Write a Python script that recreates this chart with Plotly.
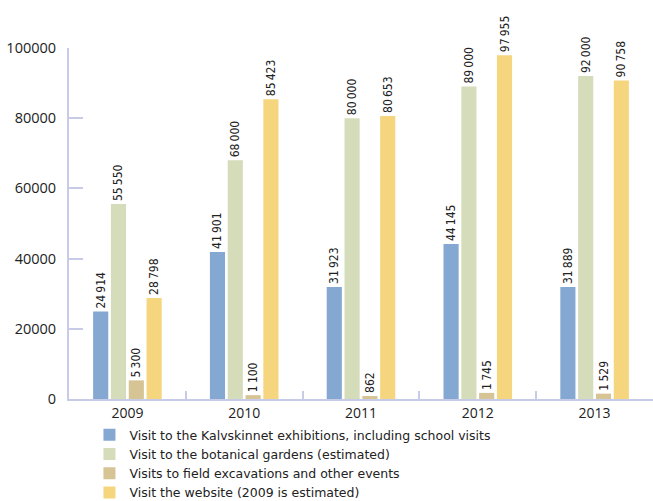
import plotly.graph_objects as go

years = ["2009", "2010", "2011", "2012", "2013"]
series_names = [
    "Visit to the Kalvskinnet exhibitions, including school visits",
    "Visit to the botanical gardens (estimated)",
    "Visits to field excavations and other events",
    "Visit the website (2009 is estimated)",
]
exhibitions = [24914, 41901, 31923, 44145, 31889]
botanical = [55550, 68000, 80000, 89000, 92000]
excavations = [5300, 1100, 862, 1745, 1529]
website = [28798, 85423, 80653, 97955, 90758]
colors = ["#85a8d3", "#d5dcb9", "#d6c494", "#f5d67f"]

tick_vals = [0, 20000, 40000, 60000, 80000, 100000]
tick_text = ["0", "20000", "40000", "60000", "80000", "100000"]


def fmt(v):
    return f"{v:,}".replace(",", "\u2009")


fig = go.Figure()
for name, vals, col in zip(series_names, [exhibitions, botanical, excavations, website], colors):
    fig.add_trace(go.Bar(
        x=years, y=vals, name=name, marker=dict(color=col, line=dict(width=0)),
        text=[fmt(v) for v in vals], textposition="outside", textangle=-90,
        constraintext="none", cliponaxis=False,
        textfont=dict(family="Liberation Sans Narrow, DejaVu Sans Condensed, Roboto", size=12, color="#222"),
    ))

axis_col = "#c8cbe8"
fig.update_layout(
    width=653, height=501,
    margin=dict(l=69, r=0, t=48, b=102, autoexpand=False),
    paper_bgcolor="white", plot_bgcolor="white",
    barmode="group", bargap=0.39, bargroupgap=0.15,
    showlegend=True,
    legend=dict(orientation="v", x=0.035, y=-0.06, xanchor="left", yanchor="top",
                font=dict(family="DejaVu Sans", size=12.5, color="#222"),
                tracegroupgap=0, itemclick=False),
    xaxis=dict(showline=True, linecolor=axis_col, linewidth=2, ticks="inside",
               tickson="boundaries", ticklen=8, tickcolor=axis_col, tickwidth=2,
               tickfont=dict(family="Open Sans", size=14, color="#222"), showgrid=False),
    yaxis=dict(range=[0, 100000], tickvals=tick_vals, ticktext=tick_text,
               showline=True, linecolor=axis_col, linewidth=2, ticks="inside",
               ticklen=14, tickcolor=axis_col, tickwidth=2, showgrid=False, zeroline=False,
               ticklabelstandoff=8,
               tickfont=dict(family="Open Sans", size=14.5, color="#222")),
)
fig.write_html("out.html")
